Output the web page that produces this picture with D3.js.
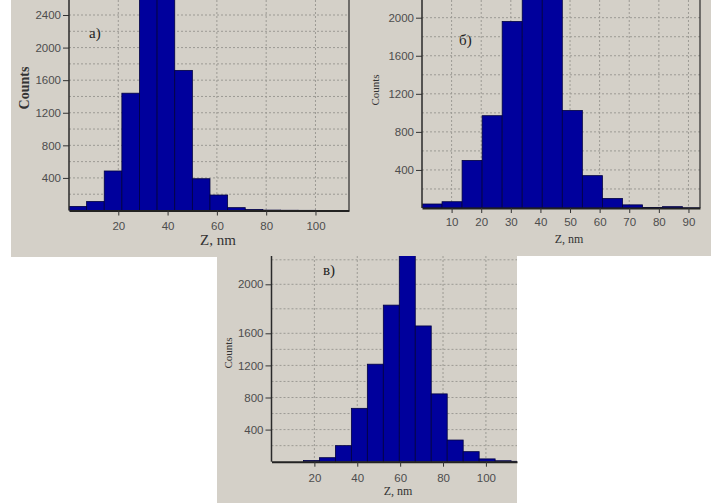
<!DOCTYPE html>
<html>
<head>
<meta charset="utf-8">
<script src="https://cdn.jsdelivr.net/npm/d3@7"></script>
<style>
  body { margin: 0; background: #fff; }
  svg { display: block; }
</style>
</head>
<body>
<div id="chart"></div>
<script>
// histogram data (bin edges in nm, counts per bin)

// panel a)
const edgesA  = [0, 7.15, 14.3, 21.45, 28.6, 35.75, 42.9, 50.05, 57.2, 64.35, 71.5, 78.65, 85.8, 92.95, 100.1, 107.25, 114.4];
const countsA = [50, 110, 485, 1440, 2750, 2650, 1720, 390, 190, 35, 12, 5, 3, 2, 1, 1];
const xTicksA = [20, 40, 60, 80, 100];
const yTicksA = [400, 800, 1200, 1600, 2000, 2400];

// panel б)
const edgesB  = [0, 6.77, 13.54, 20.31, 27.08, 33.85, 40.62, 47.39, 54.16, 60.93, 67.7, 74.47, 81.24, 88.01, 94.78];
const countsB = [42, 66, 500, 970, 1960, 2300, 2250, 1025, 340, 100, 33, 6, 14, 2];
const xTicksB = [10, 20, 30, 40, 50, 60, 70, 80, 90];
const yTicksB = [400, 800, 1200, 1600, 2000];

// panel в)
const edgesC  = [0, 7.45, 14.9, 22.35, 29.8, 37.25, 44.7, 52.15, 59.6, 67.05, 74.5, 81.95, 89.4, 96.85, 104.3, 111.75, 119.2];
const countsC = [0, 0, 15, 50, 200, 665, 1215, 1830, 2260, 1660, 845, 270, 125, 35, 12, 5];
const xTicksC = [20, 40, 60, 80, 100];
const yTicksC = [400, 800, 1200, 1600, 2000];

const panelLabels = ["а)", "б)", "в)"];
const yTitle = "Counts";
const xTitle = "Z, nm";

////////////////////////////////////////////////////////////////////////

const svg = d3.select("#chart")
  .append("svg")
  .attr("width", 711)
  .attr("height", 503);

const panelGrey = "#d4d0c8";
const barFill = "#00009c";
const gridColor = "#9c9a94";
const tickFont = "'Liberation Sans', Arial, sans-serif";
const serif = "'Liberation Serif', 'Times New Roman', serif";

function drawPanel(p, idx) {
  svg.append("rect")
    .attr("x", p.bg[0]).attr("y", p.bg[1])
    .attr("width", p.bg[2]).attr("height", p.bg[3])
    .attr("fill", panelGrey);

  let x = d3.scaleLinear().domain(p.xDomain).range([p.left, p.right]);
  let y = d3.scaleLinear().domain(p.yDomain).range(p.yRange);
  let bottom = y(0);

  let g = svg.append("g");
  let clipId = "clip" + idx;
  g.append("clipPath").attr("id", clipId)
    .append("rect")
    .attr("x", p.left).attr("y", p.top)
    .attr("width", p.right - p.left).attr("height", bottom - p.top);

  let plot = g.append("g").attr("clip-path", "url(#" + clipId + ")");

  // dashed grid
  plot.selectAll(".vgrid")
    .data(p.xTicks)
    .enter().append("line")
    .attr("x1", d => x(d)).attr("x2", d => x(d))
    .attr("y1", p.top).attr("y2", bottom)
    .attr("stroke", gridColor)
    .attr("stroke-dasharray", "2,2");

  plot.selectAll(".hgrid")
    .data(p.gridY)
    .enter().append("line")
    .attr("x1", p.left).attr("x2", p.right)
    .attr("y1", d => y(d)).attr("y2", d => y(d))
    .attr("stroke", gridColor)
    .attr("stroke-dasharray", "2,2");

  // bars
  let bins = p.counts.map((n, i) => ({ x0: p.edges[i], x1: p.edges[i + 1], n: n }));
  plot.selectAll(".bar")
    .data(bins)
    .enter().append("rect")
    .attr("x", d => x(d.x0))
    .attr("width", d => x(d.x1) - x(d.x0))
    .attr("y", d => y(d.n))
    .attr("height", d => bottom - y(d.n))
    .attr("fill", barFill)
    .attr("stroke", "#000040")
    .attr("stroke-width", 0.8);

  // axes
  let xAxis = g.append("g")
    .attr("transform", "translate(0," + bottom + ")")
    .call(d3.axisBottom(x).tickValues(p.xTicks).tickFormat(d3.format("d"))
      .tickSize(5).tickPadding(p.xPad).tickSizeOuter(0));
  xAxis.select(".domain").attr("stroke", "#222").attr("stroke-width", 2);

  let yAxis = g.append("g")
    .attr("transform", "translate(" + p.left + ",0)")
    .call(d3.axisLeft(y).tickValues(p.yTicks).tickFormat(d3.format("d"))
      .tickSize(6).tickPadding(2).tickSizeOuter(0));
  yAxis.select(".domain").remove();

  [xAxis, yAxis].forEach(a => {
    a.attr("font-family", tickFont).attr("font-size", p.tickSize);
    a.selectAll(".tick line").attr("stroke", "#333");
    a.selectAll(".tick text").attr("fill", "#4d4d4d");
  });

  g.append("line")
    .attr("x1", p.left).attr("x2", p.left)
    .attr("y1", p.top).attr("y2", bottom)
    .attr("stroke", "#2a2a2a").attr("stroke-width", 1.5);

  if (p.rightBorder) {
    g.append("line")
      .attr("x1", p.right).attr("x2", p.right)
      .attr("y1", p.top).attr("y2", bottom)
      .attr("stroke", "#2a2a2a").attr("stroke-width", 1.2);
  }

  // titles
  g.append("text")
    .attr("transform", "translate(" + p.yTitlePos[0] + "," + p.yTitlePos[1] + ") rotate(-90)")
    .attr("text-anchor", "middle")
    .attr("dominant-baseline", "central")
    .attr("font-family", serif)
    .attr("font-size", p.yTitleSize)
    .attr("font-weight", p.yTitleBold ? "bold" : "normal")
    .attr("fill", "#333")
    .text(yTitle);

  g.append("text")
    .attr("x", p.xTitlePos[0]).attr("y", p.xTitlePos[1])
    .attr("text-anchor", "middle")
    .attr("dominant-baseline", "central")
    .attr("font-family", serif)
    .attr("font-size", p.xTitleSize)
    .attr("fill", "#333")
    .text(xTitle);

  g.append("text")
    .attr("x", p.labelPos[0]).attr("y", p.labelPos[1])
    .attr("dominant-baseline", "central")
    .attr("font-family", serif)
    .attr("font-size", 15)
    .attr("fill", "#222")
    .text(panelLabels[idx]);
}

let panels = [
  {
    bg: [11, 0, 346, 257], left: 69, right: 349, top: 0,
    xDomain: [0, 113.6], yDomain: [0, 2400], yRange: [210.5, 15],
    edges: edgesA, counts: countsA, xTicks: xTicksA, yTicks: yTicksA,
    gridY: d3.range(200, 2800, 200), xPad: 6, tickSize: 11.5,
    rightBorder: true,
    yTitlePos: [24, 88], yTitleSize: 14, yTitleBold: true,
    xTitlePos: [218, 240], xTitleSize: 15,
    labelPos: [89, 33]
  },
  {
    bg: [357, 0, 354, 256], left: 422, right: 700, top: 0,
    xDomain: [0, 93.9], yDomain: [0, 2000], yRange: [208, 17.7],
    edges: edgesB, counts: countsB, xTicks: xTicksB, yTicks: yTicksB,
    gridY: d3.range(200, 2400, 200), xPad: 5, tickSize: 11.5,
    rightBorder: true,
    yTitlePos: [375, 90], yTitleSize: 11, yTitleBold: false,
    xTitlePos: [569, 239], xTitleSize: 12,
    labelPos: [459, 40]
  },
  {
    bg: [217, 256, 300, 247], left: 271.5, right: 517, top: 256,
    xDomain: [0, 114.5], yDomain: [0, 1600, 2000], yRange: [461.7, 333.3, 284.3],
    edges: edgesC, counts: countsC, xTicks: xTicksC, yTicks: yTicksC,
    gridY: d3.range(200, 2400, 200), xPad: 7, tickSize: 11.5,
    rightBorder: false,
    yTitlePos: [228, 353], yTitleSize: 11, yTitleBold: false,
    xTitlePos: [398, 491], xTitleSize: 12,
    labelPos: [323, 270]
  }
];

panels.forEach(drawPanel);
</script>
</body>
</html>
